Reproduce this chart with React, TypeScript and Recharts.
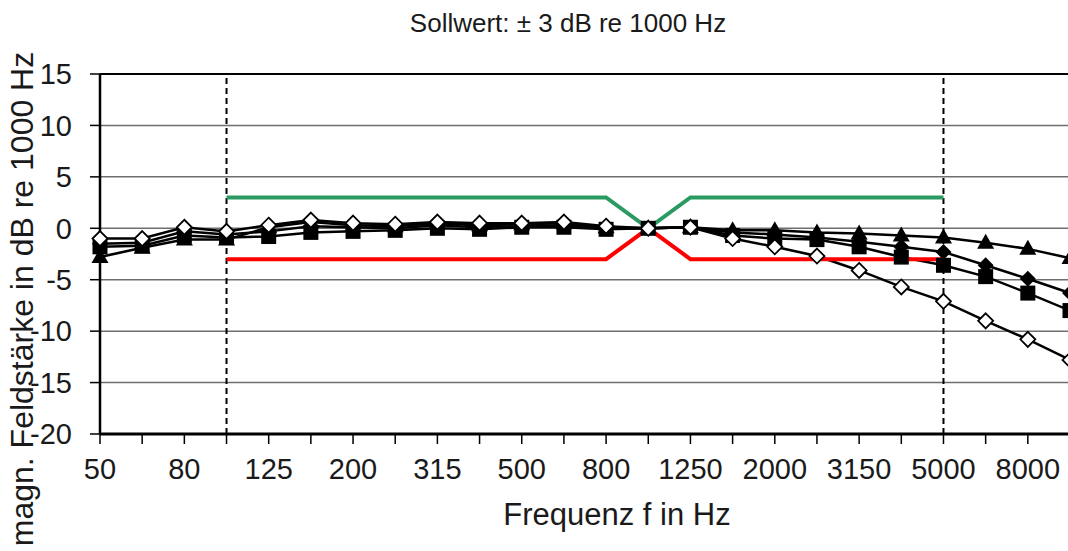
import React from "react";
import {
	CartesianGrid,
	Label,
	Line,
	LineChart,
	ReferenceLine,
	XAxis,
	YAxis,
} from "recharts";

const frequencies = [
	"50", "63", "80", "100", "125", "160", "200", "250", "315", "400", "500", "630",
	"800", "1000", "1250", "1600", "2000", "2500", "3150", "4000", "5000", "6300", "8000", "10000",
];

// measured responses, dB re 1000 Hz
const openDiamondValues = [
	-1.0, -1.0, 0.1, -0.3, 0.3, 0.8, 0.5, 0.4, 0.6, 0.5, 0.5, 0.6,
	0.2, 0, 0.1, -1.0, -1.8, -2.7, -4.1, -5.7, -7.1, -9.0, -10.8, -12.8,
];
const triangleValues = [
	-2.8, -1.9, -1.1, -1.1, 0.1, 0.6, 0.3, 0.2, 0.5, 0.3, 0.4, 0.5,
	0.1, 0, 0.1, -0.2, -0.2, -0.4, -0.5, -0.7, -0.9, -1.4, -2.0, -2.9,
];
const filledDiamondValues = [
	-1.5, -1.4, -0.3, -0.6, -0.3, 0.2, 0.1, 0.0, 0.3, 0.1, 0.2, 0.3,
	0.0, 0, 0.1, -0.4, -0.6, -0.9, -1.3, -1.8, -2.3, -3.6, -4.9, -6.3,
];
const squareValues = [
	-1.8, -1.7, -0.7, -0.9, -0.8, -0.4, -0.3, -0.2, 0.0, -0.1, 0.1, 0.1,
	-0.1, 0, 0.1, -0.7, -1.0, -1.1, -1.8, -2.8, -3.6, -4.7, -6.3, -8.0,
];

// tolerance band +/- 3 dB
const upperLimit = [
	null, null, null, 3, 3, 3, 3, 3, 3, 3, 3, 3,
	3, 0, 3, 3, 3, 3, 3, 3, 3, null, null, null,
];
const lowerLimit = [
	null, null, null, -3, -3, -3, -3, -3, -3, -3, -3, -3,
	-3, 0, -3, -3, -3, -3, -3, -3, -3, null, null, null,
];

const yTicks = [-20, -15, -10, -5, 0, 5, 10, 15];

const chartData = frequencies.map((f, i) => ({
	f,
	openDiamond: openDiamondValues[i],
	triangle: triangleValues[i],
	filledDiamond: filledDiamondValues[i],
	square: squareValues[i],
	upper: upperLimit[i],
	lower: lowerLimit[i],
}));

const FONT = '"Liberation Sans", Arial, sans-serif';
const TEXT = "#1a1a1a";

function FreqTick({ x, y, payload }: any) {
	const idx = frequencies.indexOf(String(payload.value));
	if (idx % 2 !== 0) return <g />;
	return (
		<text x={x} y={y} dy="0.71em" textAnchor="middle" fontSize={29} fill={TEXT}>
			{payload.value}
		</text>
	);
}

function OpenDiamondDot({ cx, cy, index }: any) {
	if (cx == null || cy == null) return <g key={`od-${index}`} />;
	const r = 7.5;
	return (
		<polygon
			key={`od-${index}`}
			points={`${cx},${cy - r} ${cx + r},${cy} ${cx},${cy + r} ${cx - r},${cy}`}
			fill="#fff"
			stroke="#000"
			strokeWidth={1.8}
		/>
	);
}

function FilledDiamondDot({ cx, cy, index }: any) {
	if (cx == null || cy == null) return <g key={`fd-${index}`} />;
	const r = 8;
	return (
		<polygon
			key={`fd-${index}`}
			points={`${cx},${cy - r} ${cx + r},${cy} ${cx},${cy + r} ${cx - r},${cy}`}
			fill="#000"
		/>
	);
}

function TriangleDot({ cx, cy, index }: any) {
	if (cx == null || cy == null) return <g key={`tr-${index}`} />;
	return (
		<polygon
			key={`tr-${index}`}
			points={`${cx},${cy - 9} ${cx + 8.5},${cy + 6} ${cx - 8.5},${cy + 6}`}
			fill="#000"
		/>
	);
}

function SquareDot({ cx, cy, index }: any) {
	if (cx == null || cy == null) return <g key={`sq-${index}`} />;
	return <rect key={`sq-${index}`} x={cx - 7.5} y={cy - 7.5} width={15} height={15} fill="#000" />;
}

export default function App() {
	return (
		<div
			style={{
				position: "absolute",
				left: 0,
				top: 0,
				width: 1068,
				height: 551,
				overflow: "hidden",
				background: "#fff",
				fontFamily: FONT,
			}}
		>
			<div
				style={{
					position: "absolute",
					left: 368,
					top: 10,
					width: 400,
					textAlign: "center",
					fontSize: 26,
					lineHeight: "26px",
					color: TEXT,
				}}
			>
				Sollwert: ± 3 dB re 1000 Hz
			</div>
			<LineChart
				width={1090}
				height={551}
				data={chartData}
				margin={{ top: 74, right: 20, left: 0, bottom: 0 }}
				style={{ fontFamily: FONT }}
			>
				<CartesianGrid vertical={false} stroke="#6e6e6e" strokeWidth={1.5} />
				<XAxis
					dataKey="f"
					interval={0}
					height={117}
					tickSize={10}
					tickMargin={14}
					tick={<FreqTick />}
					tickLine={{ stroke: "#000", strokeWidth: 1.5 }}
					axisLine={{ stroke: "#000", strokeWidth: 3 }}
				>
					<Label
						content={() => (
							<text x={617} y={525} textAnchor="middle" fontSize={31} fill={TEXT} fontFamily={FONT}>
								Frequenz f in Hz
							</text>
						)}
					/>
				</XAxis>
				<YAxis
					type="number"
					domain={[-20, 15]}
					ticks={yTicks}
					interval={0}
					allowDataOverflow
					width={100}
					tickSize={10}
					tickMargin={18}
					tick={{ fontSize: 29, fill: TEXT }}
					tickLine={{ stroke: "#000", strokeWidth: 1.5 }}
					axisLine={{ stroke: "#000", strokeWidth: 2.5 }}
				>
					<Label
						content={() => (
							<text
								x={33}
								y={299}
								textAnchor="middle"
								fontSize={32}
								fill={TEXT}
								fontFamily={FONT}
								transform="rotate(-90, 33, 299)"
							>
								magn. Feldstärke in dB re 1000 Hz
							</text>
						)}
					/>
				</YAxis>
				<ReferenceLine y={15} stroke="#000" strokeWidth={2} />
				<ReferenceLine x="100" stroke="#000" strokeWidth={2} strokeDasharray="6 4" />
				<ReferenceLine x="5000" stroke="#000" strokeWidth={2} strokeDasharray="6 4" />
				<Line
					dataKey="square"
					stroke="#000"
					strokeWidth={2.5}
					dot={(p: any) => <SquareDot key={`sq-${p.index}`} {...p} />}
					isAnimationActive={false}
				/>
				<Line
					dataKey="triangle"
					stroke="#000"
					strokeWidth={2.5}
					dot={(p: any) => <TriangleDot key={`tr-${p.index}`} {...p} />}
					isAnimationActive={false}
				/>
				<Line
					dataKey="filledDiamond"
					stroke="#000"
					strokeWidth={2.5}
					dot={(p: any) => <FilledDiamondDot key={`fd-${p.index}`} {...p} />}
					isAnimationActive={false}
				/>
				<Line
					dataKey="openDiamond"
					stroke="#000"
					strokeWidth={2.5}
					dot={(p: any) => <OpenDiamondDot key={`od-${p.index}`} {...p} />}
					isAnimationActive={false}
				/>
				<Line
					dataKey="upper"
					stroke="#2a9a62"
					strokeWidth={4}
					dot={false}
					isAnimationActive={false}
				/>
				<Line
					dataKey="lower"
					stroke="#ff0000"
					strokeWidth={4}
					dot={false}
					isAnimationActive={false}
				/>
			</LineChart>
		</div>
	);
}
